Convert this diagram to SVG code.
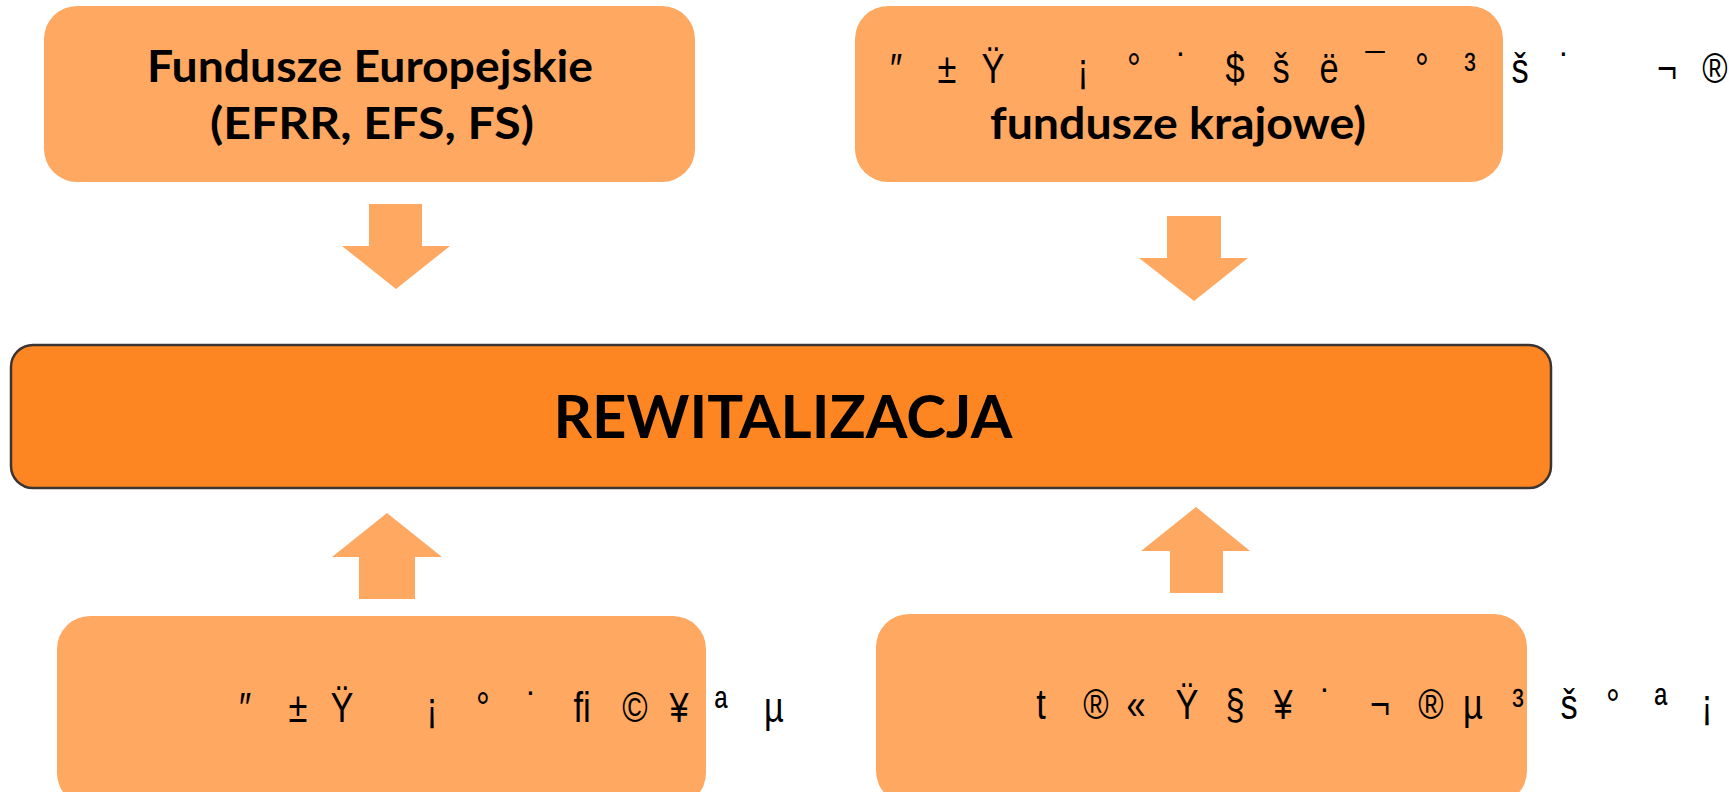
<svg xmlns="http://www.w3.org/2000/svg" width="1729" height="792" viewBox="0 0 1729 792">
<style>
.box{fill:#FEA862;}
.main{fill:#FE8622;stroke:#3a3532;stroke-width:2.5;}
.arr{fill:#FEA862;}
.b{font-family:Lato,"Open Sans","Liberation Sans",sans-serif;font-weight:bold;fill:#000;text-anchor:middle;}
.g{font-family:"Liberation Sans",sans-serif;font-weight:normal;font-size:43px;fill:#000;text-anchor:middle;}
</style>
<rect width="1729" height="792" fill="#fff"/>
<g id="connectors">
<polygon class="arr" points="369,204 422,204 422,246 450,246 396,289 342,246 369,246"/>
<polygon class="arr" points="1167,216 1221,216 1221,258 1248,258 1194,301 1139,258 1167,258"/>
<polygon class="arr" points="359,599 415,599 415,557 442,557 387,513 332,557 359,557"/>
<polygon class="arr" points="1170,593 1223,593 1223,551 1250,551 1196,507 1141,551 1170,551"/>
</g>
<g id="node-fe">
<rect class="box" x="44" y="6" width="651" height="176" rx="33"/>
<text class="b" x="370" y="82" font-size="44" textLength="446" lengthAdjust="spacingAndGlyphs">Fundusze Europejskie</text>
<text class="b" x="372" y="139" font-size="44" textLength="324" lengthAdjust="spacingAndGlyphs">(EFRR, EFS, FS)</text>
</g>
<g id="node-krajowe">
<rect class="box" x="855" y="6" width="648" height="176" rx="33"/>
<text class="g" y="83" transform="matrix(0.8 0 0 1 0 0)"><tspan x="1120">″</tspan><tspan x="1183.75">±</tspan><tspan x="1241.25">Ÿ</tspan><tspan x="1353.75">¡</tspan><tspan x="1417.5">°</tspan><tspan x="1477.5">˙</tspan><tspan x="1543.75">$</tspan><tspan x="1601.25">š</tspan><tspan x="1661.25">ë</tspan><tspan x="1718.75">¯</tspan><tspan x="1777.5">°</tspan><tspan x="1837.5">³</tspan><tspan x="1900">š</tspan><tspan x="1956.25">˙</tspan><tspan x="2083.75">¬</tspan><tspan x="2143.75">®</tspan></text>
<text class="b" x="1178" y="139" font-size="44" textLength="376" lengthAdjust="spacingAndGlyphs">fundusze krajowe)</text>
</g>
<g id="node-rewitalizacja">
<rect class="main" x="11" y="345" width="1540" height="143" rx="22"/>
<text class="b" x="783" y="438" font-size="60" textLength="459" lengthAdjust="spacingAndGlyphs">REWITALIZACJA</text>
</g>
<g id="node-bl">
<rect class="box" x="57" y="616" width="649" height="190" rx="33"/>
<text class="g" y="722" transform="matrix(0.8 0 0 1 0 0)"><tspan x="306.25">″</tspan><tspan x="372.5">±</tspan><tspan x="427.5">Ÿ</tspan><tspan x="540">¡</tspan><tspan x="603.75">°</tspan><tspan x="665">˙</tspan><tspan x="727.5">ﬁ</tspan><tspan x="793.75">©</tspan><tspan x="848.75">¥</tspan><tspan x="901.25">ª</tspan><tspan x="967.5">µ</tspan></text>
</g>
<g id="node-br">
<rect class="box" x="876" y="614" width="651" height="190" rx="33"/>
<text class="g" y="719" transform="matrix(0.8 0 0 1 0 0)"><tspan x="1301.25">t</tspan><tspan x="1370">®</tspan><tspan x="1420">«</tspan><tspan x="1483.75">Ÿ</tspan><tspan x="1543.75">§</tspan><tspan x="1603.75">¥</tspan><tspan x="1657.5">˙</tspan><tspan x="1725">¬</tspan><tspan x="1788.75">®</tspan><tspan x="1841.25">µ</tspan><tspan x="1897.5">³</tspan><tspan x="1961.25">š</tspan><tspan x="2016.25">°</tspan><tspan x="2076.25">ª</tspan><tspan x="2133.75">¡</tspan></text>
</g>
</svg>
